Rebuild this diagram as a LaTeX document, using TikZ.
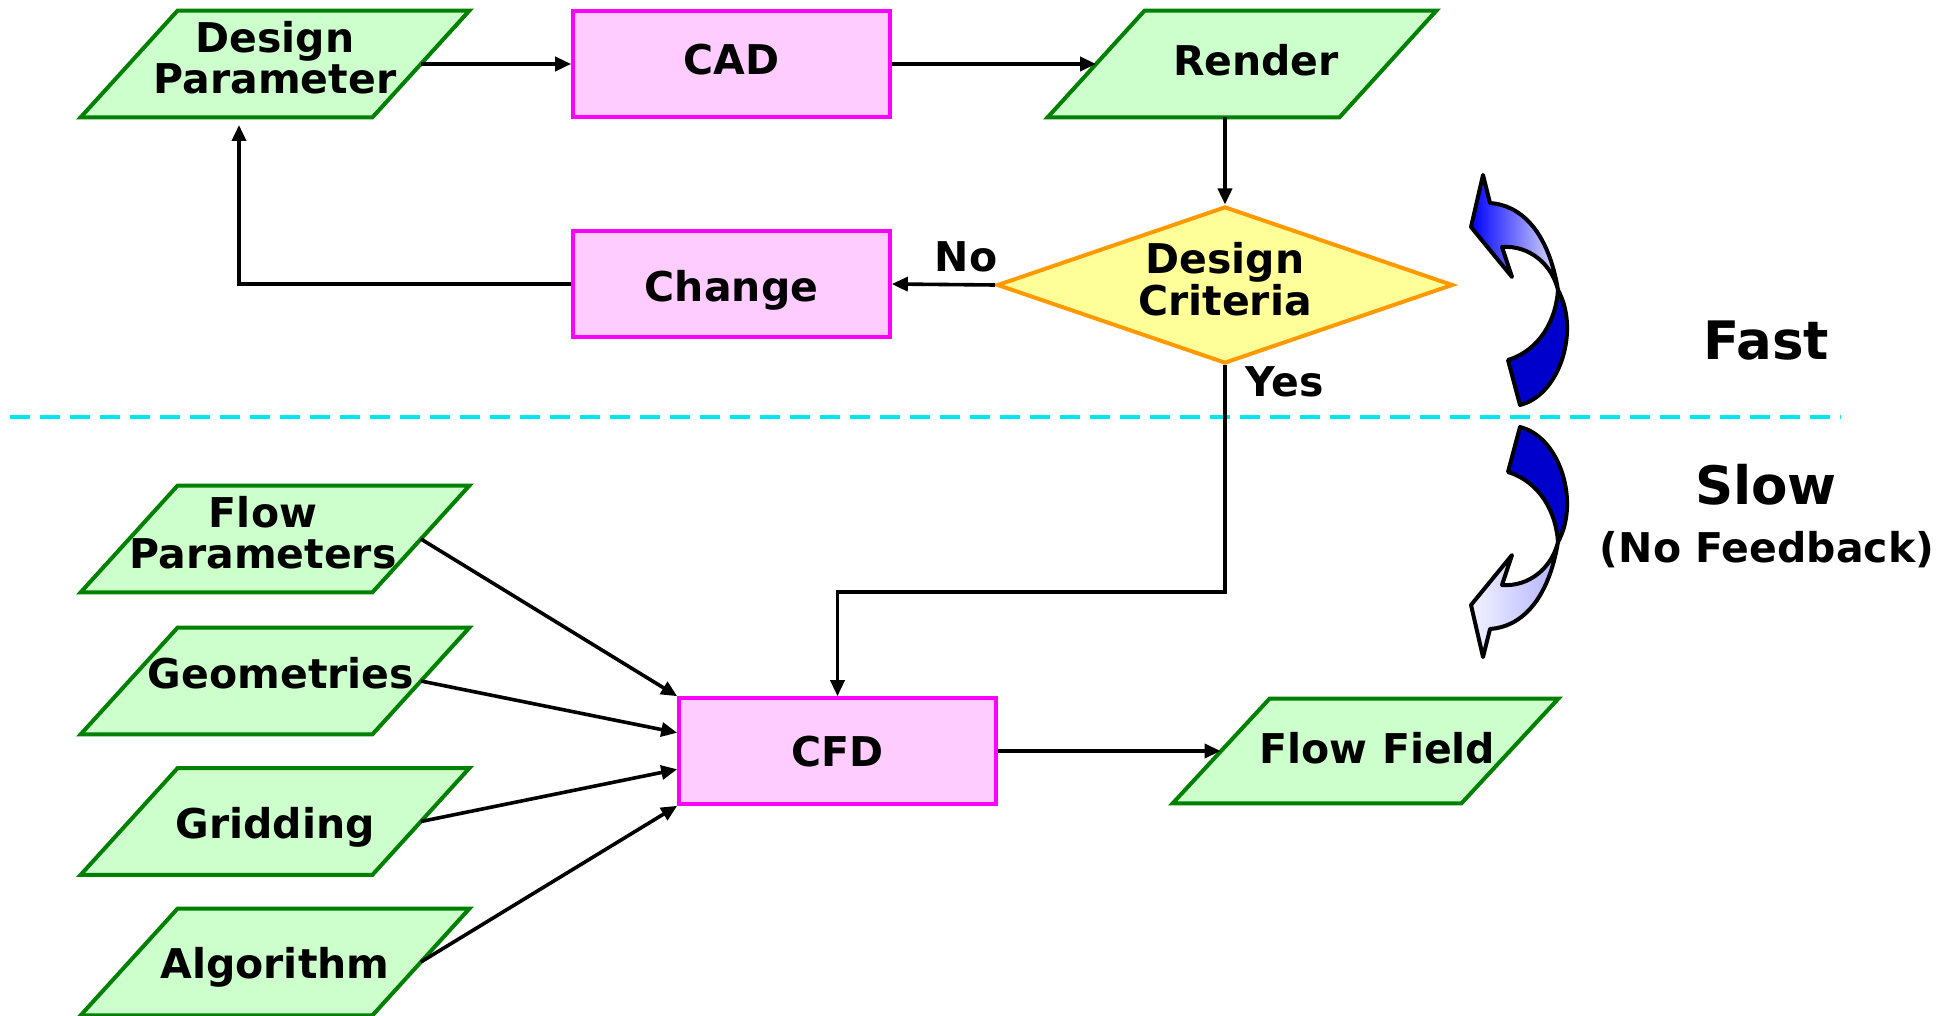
\documentclass[tikz,border=0pt]{standalone}
\usepackage{fontspec}
\setmainfont{DejaVu Sans}
\usetikzlibrary{shapes.geometric,arrows.meta,calc,backgrounds}
\definecolor{lgreen}{RGB}{204,255,204}
\definecolor{dgreen}{RGB}{0,128,0}
\definecolor{lpink}{RGB}{255,204,255}
\definecolor{mag}{RGB}{255,0,255}
\definecolor{lyellow}{RGB}{255,255,153}
\definecolor{orng}{RGB}{255,153,0}
\definecolor{dblue}{RGB}{0,0,204}
\definecolor{dashcyan}{RGB}{0,230,240}
\newcommand\paragram[1]{%
  \filldraw[draw=dgreen, fill=lgreen, line width=2pt, line join=miter]
    (#1.south west) -- ($(#1.south east)+(-97,0)$) -- (#1.north east)
    -- ($(#1.north west)+(97,0)$) -- cycle;}
\newcommand\bl[2]{\raisebox{#1}[0pt][0pt]{#2}}
\begin{document}
\begin{tikzpicture}[x=0.5pt,y=-0.5pt,
  font=\fontsize{20.5}{21.5}\selectfont\bfseries,
  io/.style={rectangle, inner sep=0pt, minimum width=194pt, minimum height=53pt, align=center},
  proc/.style={rectangle, draw=mag, fill=lpink, line width=1.8pt,
    minimum width=158.5pt, minimum height=53pt, inner sep=0pt},
  dec/.style={diamond, draw=orng, fill=lyellow, line width=2pt,
    minimum width=228pt, minimum height=78.5pt, inner sep=0pt, aspect=2.9, align=center},
  arr/.style={-{Triangle[length=8pt,width=7pt]}, line width=1.8pt},
  bigtxt/.style={font=\fontsize{26.5}{26.5}\selectfont\bfseries},
  curvo/.style={draw=black, line width=2pt, line join=round}]
\useasboundingbox (0,0) rectangle (1950,1016);

% dashed separator
\coordinate (dl) at (10,417);
\coordinate (dr) at (1841,417);
\draw[dashcyan, line width=2pt, dash pattern=on 10pt off 5pt] (dl) -- (dr);

% top row
\node[io] (dp) at (275,64) {\raisebox{3pt}{\begin{tabular}{@{}c@{}}Design\\[-1pt]Parameter\end{tabular}}};
\node[proc] (cad) at (731.5,64) {\bl{-5.5pt}{CAD}};
\node[io] (rend) at (1242,64) {\hspace*{14pt}\bl{-6pt}{Render}};
\node[proc] (chg) at (731.5,284) {\bl{-9pt}{Change}};
\node[dec] (dc) at (1225,285) {\raisebox{5pt}{\begin{tabular}{@{}c@{}}Design\\[-1pt]Criteria\end{tabular}}};

% bottom
\node[io] (fp) at (275,539) {\hspace*{-12pt}\raisebox{3pt}{\begin{tabular}{@{}c@{}}Flow\\[-1pt]Parameters\end{tabular}}};
\node[io] (geo) at (275,681) {\hspace*{6pt}\bl{-3.5pt}{Geometries}};
\node[io] (grid) at (275,821.5) {\bl{-8.25pt}{Gridding}};
\node[io] (alg) at (275,962) {\bl{-8pt}{Algorithm}};
\node[proc] (cfd) at (837.5,751) {\bl{-7.5pt}{CFD}};
\node[io, minimum width=192.5pt, minimum height=52pt] (ff) at (1365.5,751) {\hspace*{12pt}\bl{-6.3pt}{Flow Field}};

\begin{scope}[on background layer]
  \paragram{dp}
  \paragram{rend}
  \paragram{fp}
  \paragram{geo}
  \paragram{grid}
  \paragram{alg}
  \paragram{ff}
\end{scope}

% labels
\node (no) at (966,257) {No};
\node (yes) at (1285,382) {Yes};
\node[bigtxt] (fast) at (1766,341) {Fast};
\node[bigtxt] (slow) at (1766,485) {Slow};
\node (nofb) at (1767,550) {(No Feedback)};

% connectors
\draw[arr] ($(dp.east)+(-48.5,0)$) -- (cad.west);
\draw[arr] (cad.east) -- ($(rend.west)+(48.5,0)$);
\draw[arr] (rend.south -| dc.north) -- (dc.north);
\draw[arr] (dc.west) -- (chg.east);
\coordinate (dpin) at (239,117);
\draw[arr, shorten >=4pt] (chg.west) -| (dpin);
\coordinate (yesturn) at (1225,592);
\draw[arr] (dc.south) -- (yesturn) -| (cfd.north);
\draw[arr] ($(fp.east)+(-48.5,0)$) -- (cfd.north west);
\draw[arr] ($(geo.east)+(-48.5,0)$) -- ($(cfd.north west)!.3333!(cfd.south west)$);
\draw[arr] ($(grid.east)+(-48.5,0)$) -- ($(cfd.north west)!.6667!(cfd.south west)$);
\draw[arr] ($(alg.east)+(-48.5,0)$) -- (cfd.south west);
\draw[arr] (cfd.east) -- ($(ff.west)+(48,0)$);

% curved arrows (upper)
\path[curvo, fill=dblue] (1558,290) .. controls (1556,320) and (1540,350) .. (1508,360)
  -- (1520,405) .. controls (1560,395) and (1580,330) .. (1558,290) -- cycle;
\path[curvo, left color=blue, right color=blue!12] (1558,290) .. controls (1548,230) and (1520,205) .. (1490,203)
  -- (1483,175) -- (1471,227) -- (1512,277) -- (1502,247)
  .. controls (1530,245) and (1552,265) .. (1558,290) -- cycle;
% curved arrows (lower)
\path[curvo, fill=dblue] (1558,542) .. controls (1556,512) and (1540,482) .. (1508,472)
  -- (1520,427) .. controls (1560,437) and (1580,502) .. (1558,542) -- cycle;
\path[curvo, left color=blue!5, middle color=blue, right color=blue!30] (1558,542) .. controls (1548,602) and (1520,627) .. (1490,629)
  -- (1483,657) -- (1471,605) -- (1512,555) -- (1502,585)
  .. controls (1530,587) and (1552,567) .. (1558,542) -- cycle;
\end{tikzpicture}
\end{document}
